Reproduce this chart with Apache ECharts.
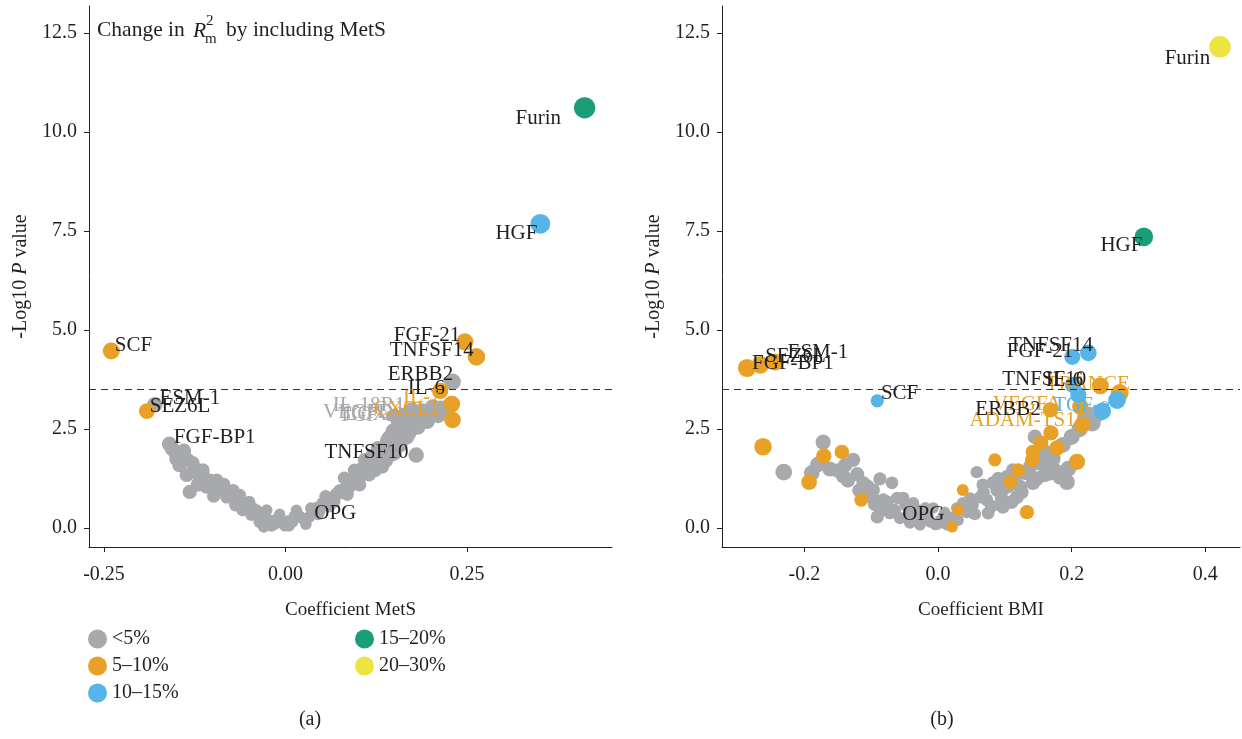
<!DOCTYPE html>
<html>
<head>
<meta charset="utf-8">
<script src="https://cdn.jsdelivr.net/npm/echarts@6/dist/echarts.min.js"></script>
<style>
  html, body { margin: 0; padding: 0; background: #fff; }
  #chart { width: 1242px; height: 739px; }
</style>
</head>
<body>
<div id="chart"></div>
<script>
// Volcano plots: coefficient vs -log10 P, coloured by change in R²m.
// Each point: [coefficient, -log10 P, optional protein name]

const threshold = 3.51;

const metsTicks = [-0.25, 0, 0.25];
const bmiTicks = [-0.2, 0, 0.2, 0.4];
const pTicks = [0, 2.5, 5, 7.5, 10, 12.5];

const groupNames = ['<5%', '5–10%', '10–15%', '15–20%', '20–30%'];

// Panel (a): MetS
const metsGrey = [
  [-0.180, 3.11, 'ESM-1'], [-0.160, 2.12, 'FGF-BP1'], [-0.152, 1.92], [-0.142, 1.82], [-0.128, 1.64],
  [-0.136, 1.34], [-0.118, 1.29], [-0.132, 0.91], [-0.109, 1.04], [-0.095, 1.21], [-0.088, 0.96],
  [-0.081, 0.78], [-0.076, 0.88], [-0.063, 0.83], [-0.055, 0.61], [-0.050, 0.66], [-0.040, 0.45],
  [-0.033, 0.38], [-0.026, 0.45], [-0.036, 0.15], [-0.022, 0.20], [-0.014, 0.10], [-0.011, 0.25],
  [-0.006, 0.13], [0.003, 0.18], [0.010, 0.15], [0.015, 0.45], [0.019, 0.30], [0.023, 0.25],
  [0.033, 0.28], [0.039, 0.40], [0.043, 0.51], [0.051, 0.63], [0.058, 0.71], [0.063, 0.76],
  [0.070, 0.86], [0.074, 0.88], [0.081, 0.96], [0.088, 1.04], [0.094, 1.16], [0.098, 1.21],
  [0.103, 1.31], [0.109, 1.41], [0.112, 1.64], [0.116, 1.59], [0.121, 1.69], [0.129, 1.79],
  [0.135, 1.92], [0.139, 2.05], [0.146, 2.07], [0.150, 1.89], [0.153, 2.17], [0.160, 2.32],
  [0.164, 2.47], [0.167, 2.30], [0.171, 2.55], [0.176, 2.63], [0.180, 1.84, 'TNFSF10'],
  [0.185, 2.73], [0.190, 2.78], [0.194, 2.83], [0.200, 2.90], [0.208, 2.93], [0.213, 3.01],
  [0.222, 3.03], [0.230, 3.69, 'ERBB2'], [0.157, 2.73, 'TGF-α'], [0.164, 2.85, 'IL-18R1'],
  [0.150, 2.83, 'VEGFD'], [0.146, 2.35], [0.174, 2.98, 'LOX-1'], [0.123, 1.46], [0.102, 1.09],
  [0.067, 0.66], [0.047, 0.45], [0.026, 0.20, 'OPG'], [-0.001, 0.05], [-0.019, 0.05],
  [-0.030, 0.03], [-0.047, 0.33], [-0.059, 0.45], [-0.069, 0.58], [-0.099, 0.81], [-0.105, 1.21],
  [-0.114, 1.46], [-0.146, 1.59], [-0.135, 1.72], [-0.121, 1.09], [0.081, 1.26], [0.095, 1.46],
  [0.109, 1.72], [0.127, 2.02], [0.142, 2.27], [0.154, 2.42],
  [0.105, 1.50], [0.115, 1.35], [0.118, 1.80], [0.125, 1.60], [0.130, 2.00], [0.133, 1.55],
  [0.138, 1.70], [0.140, 2.20], [0.145, 1.85], [0.148, 2.45], [0.155, 2.60], [0.158, 2.10],
  [0.162, 2.60], [0.168, 2.70], [0.170, 2.40], [0.178, 2.80], [0.182, 2.55], [0.188, 2.95],
  [0.195, 2.70], [0.203, 3.05], [0.210, 2.85], [0.218, 2.95], [0.090, 1.20], [0.085, 0.85],
  [0.075, 0.95], [0.060, 0.55], [0.055, 0.80], [0.045, 0.35], [0.035, 0.50], [0.028, 0.10],
  [0.012, 0.30], [0.005, 0.05], [-0.008, 0.35], [-0.045, 0.50], [-0.065, 0.70], [-0.072, 0.95],
  [-0.085, 1.10], [-0.100, 1.00], [-0.112, 1.25], [-0.125, 1.50], [-0.140, 1.95], [-0.150, 1.75],
  [-0.156, 2.00]
];
const metsOrange = [
  [-0.240, 4.47, 'SCF'], [-0.191, 2.95, 'SEZ6L'], [0.247, 4.70, 'FGF-21'], [0.263, 4.32, 'TNFSF14'],
  [0.213, 3.46, 'IL-6'], [0.229, 3.13, 'IL-7'], [0.230, 2.73, 'CXCL1']
];
const metsBlue = [[0.351, 7.68, 'HGF']];
const metsGreen = [[0.412, 10.61, 'Furin']];
const metsYellow = [];

// Panel (b): BMI
const bmiGrey = [
  [-0.172, 2.17], [-0.231, 1.41], [-0.189, 1.39], [-0.162, 1.49], [-0.127, 1.72], [-0.142, 1.31],
  [-0.121, 1.36], [-0.106, 1.06], [-0.087, 1.24], [-0.069, 1.14], [-0.099, 0.83], [-0.076, 0.66],
  [-0.052, 0.76], [-0.037, 0.63], [-0.019, 0.51], [-0.007, 0.51], [-0.112, 1.14], [-0.097, 0.96],
  [-0.082, 0.71], [-0.061, 0.76], [-0.072, 0.38, 'OPG'], [-0.091, 0.28], [-0.057, 0.25],
  [-0.039, 0.40], [-0.031, 0.20], [-0.022, 0.33], [-0.012, 0.15], [0.003, 0.20], [0.013, 0.08],
  [0.022, 0.28], [0.043, 0.40], [0.052, 0.58], [0.058, 1.41], [0.063, 0.78], [0.067, 1.09],
  [0.075, 0.38], [0.088, 0.96], [0.097, 0.53], [0.103, 1.29], [0.112, 1.46], [0.118, 0.78],
  [0.123, 1.04], [0.130, 1.39], [0.142, 1.14], [0.153, 1.64], [0.168, 1.39], [0.183, 1.29],
  [0.133, 1.39], [0.082, 1.14], [0.097, 0.96], [0.073, 0.71], [0.037, 0.63], [0.187, 2.10],
  [0.231, 2.65], [0.165, 1.54], [0.193, 1.16], [0.220, 2.73], [-0.139, 1.59], [-0.049, 0.58],
  [0.010, 0.40], [0.030, 0.20], [-0.004, 0.08], [-0.027, 0.08], [-0.042, 0.13],
  [-0.180, 1.60], [-0.150, 1.45], [-0.135, 1.20], [-0.118, 0.95], [-0.105, 0.80], [-0.095, 0.60],
  [-0.085, 0.45], [-0.065, 0.45], [-0.045, 0.30], [-0.030, 0.45], [-0.015, 0.30], [0.000, 0.10],
  [0.008, 0.30], [0.018, 0.15], [0.028, 0.50], [0.048, 0.75], [0.055, 0.35], [0.068, 0.90],
  [0.080, 0.55], [0.090, 1.25], [0.095, 0.75], [0.105, 1.05], [0.110, 0.65], [0.115, 1.20],
  [0.125, 0.90], [0.138, 1.55], [0.148, 1.25], [0.158, 1.95], [0.160, 1.35], [0.172, 1.75],
  [0.175, 1.45], [0.195, 1.50], [0.200, 2.30], [0.212, 2.50], [0.225, 2.85], [0.240, 2.90],
  [0.145, 2.30]
];
const bmiOrange = [
  [-0.286, 4.04, 'FGF-BP1'], [-0.266, 4.12, 'SEZ6L'], [-0.244, 4.19, 'ESM-1'], [-0.262, 2.05],
  [-0.193, 1.16], [-0.171, 1.82], [-0.144, 1.92], [-0.115, 0.71], [0.272, 3.41, 'TRANCE'],
  [0.243, 3.59], [0.213, 3.06, 'VEGFA'], [0.216, 2.60, 'ADAM-TS15'], [0.168, 2.98, 'ERBB2'],
  [0.169, 2.40], [0.154, 2.15], [0.178, 2.02], [0.142, 1.92], [0.208, 1.67], [0.085, 1.72],
  [0.120, 1.46], [0.108, 1.16], [0.133, 0.40], [0.037, 0.96], [0.030, 0.45], [0.021, 0.03],
  [0.141, 1.72]
];
const bmiBlue = [
  [-0.091, 3.21, 'SCF'], [0.201, 4.32, 'FGF-21'], [0.225, 4.42, 'TNFSF14'], [0.202, 3.61, 'IL-6'],
  [0.210, 3.36, 'TNFSF10'], [0.246, 2.95, 'TGF-α'], [0.268, 3.23]
];
const bmiGreen = [[0.308, 7.35, 'HGF']];
const bmiYellow = [[0.422, 12.15, 'Furin']];

// Proteins whose labels are printed in dark ink
const highlighted = ['Furin', 'HGF', 'SCF', 'SEZ6L', 'ESM-1', 'FGF-BP1', 'FGF-21', 'TNFSF14',
  'ERBB2', 'IL-6', 'TNFSF10', 'OPG'];

const fontFamily = "'Liberation Serif', 'DejaVu Serif', serif";
const ink = '#231f20';
const palette = ['#a7a9ac', '#e8a126', '#56b4e9', '#1b9e77', '#ece440'];

// Label placement (side of point + nudge) for each panel
const placeA = {
  'Furin': ['left', [-8, 11]], 'HGF': ['left', [12, 10]], 'SCF': ['right', [-10, -5]],
  'SEZ6L': ['right', [-10, -5]], 'ESM-1': ['right', [-8, -6]], 'FGF-BP1': ['right', [-8, -7]],
  'FGF-21': ['left', [9, -6]], 'TNFSF14': ['left', [11, -6]], 'ERBB2': ['left', [14, -7]],
  'IL-6': ['left', [18, -2]], 'IL-7': ['left', [2, -7]], 'CXCL1': ['left', [1, -10]],
  'IL-18R1': ['left', [13, -10]], 'VEGFD': ['left', [11, -3]], 'TGF-α': ['left', [9, -4]],
  'LOX-1': ['left', [6, 5]], 'TNFSF10': ['left', [5, -3]], 'OPG': ['right', [-1, -7]]
};
const placeB = {
  'Furin': ['left', [6, 12]], 'HGF': ['left', [13, 9]], 'SCF': ['right', [-8, -7]],
  'FGF-BP1': ['right', [-9, -5]], 'SEZ6L': ['right', [-9, -8]], 'ESM-1': ['right', [-1, -10]],
  'TNFSF14': ['left', [18, -7]], 'FGF-21': ['left', [14, -5]], 'TNFSF10': ['left', [21, -15]],
  'IL-6': ['left', [23, -5]], 'TRANCE': ['left', [24, -8]], 'VEGFA': ['left', [-6, -2]],
  'TGF-α': ['left', [22, -6]], 'ERBB2': ['left', [3, 0]], 'ADAM-TS15': ['left', [17, -5]],
  'OPG': ['right', [1, 2]]
};

function pointSeries(name, color, rows, axis, place, withThreshold) {
  const s = {
    type: 'scatter',
    name: name,
    xAxisIndex: axis,
    yAxisIndex: axis,
    symbol: 'circle',
    symbolSize: v => 11 + 25 * Math.abs(v[0]),
    itemStyle: { color: color, opacity: 1 },
    emphasis: { disabled: true },
    label: { fontFamily: fontFamily, fontSize: 21, formatter: p => p.name, distance: 5 },
    data: rows.map(r => {
      const item = { value: [r[0], r[1]], name: r[2] || '' };
      if (r[2]) {
        const pl = place[r[2]] || ['right', [0, 0]];
        item.label = {
          show: true, position: pl[0], offset: pl[1],
          color: highlighted.includes(r[2]) ? ink : color
        };
      } else {
        item.label = { show: false };
      }
      return item;
    })
  };
  if (withThreshold) {
    s.markLine = {
      silent: true, symbol: 'none', animation: false,
      label: { show: false },
      lineStyle: { type: [7, 5], color: '#333', width: 1 },
      data: [{ yAxis: threshold }]
    };
  }
  return s;
}

const panelA = [metsGrey, metsOrange, metsBlue, metsGreen, metsYellow];
const panelB = [bmiGrey, bmiOrange, bmiBlue, bmiGreen, bmiYellow];

const series = [];
panelA.forEach((rows, i) => series.push(pointSeries(groupNames[i], palette[i], rows, 0, placeA, i === 0)));
panelB.forEach((rows, i) => series.push(pointSeries(groupNames[i], palette[i], rows, 1, placeB, i === 0)));

const tickText = { fontFamily: fontFamily, fontSize: 20, color: ink };

function xAxisDef(idx, min, max, ticks, digits, title) {
  return {
    gridIndex: idx, type: 'value', min: min, max: max,
    splitLine: { show: false },
    axisLine: { onZero: false, lineStyle: { color: ink, width: 1 } },
    axisTick: { show: true, length: 5, customValues: ticks, lineStyle: { color: ink } },
    axisLabel: Object.assign({ customValues: ticks, margin: 18, formatter: v => v.toFixed(digits) }, tickText),
    name: title, nameLocation: 'middle', nameGap: 54,
    nameTextStyle: { fontFamily: fontFamily, fontSize: 19, color: ink }
  };
}
function yAxisDef(idx) {
  return {
    gridIndex: idx, type: 'value', min: -0.48, max: 13.18,
    splitLine: { show: false },
    axisLine: { onZero: false, lineStyle: { color: ink, width: 1 } },
    axisTick: { show: true, length: 5, customValues: pTicks, lineStyle: { color: ink } },
    axisLabel: Object.assign({ customValues: pTicks, margin: 12, formatter: v => v.toFixed(1) }, tickText),
    name: '-Log10 {i|P} value', nameLocation: 'middle', nameGap: 58,
    nameTextStyle: {
      fontFamily: fontFamily, fontSize: 20, color: ink,
      rich: { i: { fontFamily: fontFamily, fontSize: 20, fontStyle: 'italic', color: ink } }
    }
  };
}

const textStyle = (size, extra) => Object.assign({ font: size + 'px ' + fontFamily, fill: ink, verticalAlign: 'middle' }, extra || {});

const option = {
  animation: false,
  backgroundColor: '#fff',
  textStyle: { fontFamily: fontFamily },
  grid: [
    { left: 89, top: 6, width: 523, height: 541 },
    { left: 722, top: 6, width: 518, height: 541 }
  ],
  xAxis: [
    xAxisDef(0, -0.2707, 0.4497, metsTicks, 2, 'Coefficient MetS'),
    xAxisDef(1, -0.3234, 0.452, bmiTicks, 1, 'Coefficient BMI')
  ],
  yAxis: [yAxisDef(0), yAxisDef(1)],
  legend: [
    {
      orient: 'vertical', left: 83, top: 624, itemGap: 7, itemWidth: 19, itemHeight: 19,
      icon: 'circle', selectedMode: false,
      textStyle: { fontFamily: fontFamily, fontSize: 20, color: ink },
      data: groupNames.slice(0, 3)
    },
    {
      orient: 'vertical', left: 350, top: 624, itemGap: 7, itemWidth: 19, itemHeight: 19,
      icon: 'circle', selectedMode: false,
      textStyle: { fontFamily: fontFamily, fontSize: 20, color: ink },
      data: groupNames.slice(3)
    }
  ],
  graphic: [
    { type: 'text', x: 97, y: 30, style: textStyle(21.5, { text: 'Change in' }) },
    { type: 'text', x: 193, y: 31, style: textStyle(21.5, { text: 'R', font: 'italic 21.5px ' + fontFamily }) },
    { type: 'text', x: 206, y: 21, style: textStyle(15, { text: '2' }) },
    { type: 'text', x: 205, y: 39, style: textStyle(15, { text: 'm' }) },
    { type: 'text', x: 226, y: 30, style: textStyle(21.5, { text: 'by including MetS' }) },
    { type: 'text', x: 310, y: 720, style: textStyle(20, { text: '(a)', align: 'center' }) },
    { type: 'text', x: 942, y: 720, style: textStyle(20, { text: '(b)', align: 'center' }) }
  ],
  series: series
};

const chart = echarts.init(document.getElementById('chart'), null, { renderer: 'canvas' });
chart.setOption(option);
</script>
</body>
</html>
